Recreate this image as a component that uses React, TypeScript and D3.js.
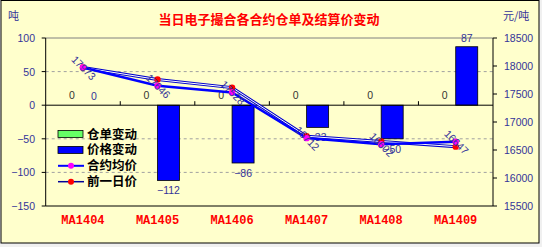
import React from 'react';
import * as d3 from 'd3';

const categories = ['MA1404', 'MA1405', 'MA1406', 'MA1407', 'MA1408', 'MA1409'];
const warehouseChange = [0, 0, 0, 0, 0, 0];
const priceChange = [0, -112, -86, -33, -50, 87];
const avgPrice = [17973, 17646, 17528, 16712, 16602, 16647];
const prevPrice = [17973, 17758, 17614, 16745, 16652, 16560];
const leftTicks = [100, 50, 0, -50, -100, -150];
const rightTicks = [18500, 18000, 17500, 17000, 16500, 16000, 15500];
const legendItems = ['仓单变动', '价格变动', '合约均价', '前一日价'];
const title = '当日电子撮合各合约仓单及结算价变动';

const W = 542, H = 247;
const PL = 45.7, PR = 493, PT = 38, PB = 206;
const navy = '#333399';
const cjk = '"Noto Sans CJK SC", sans-serif';

export default function App() {
  const yL = d3.scaleLinear().domain([-150, 100]).range([PB, PT]);
  const yR = d3.scaleLinear().domain([15500, 18500]).range([PB, PT]);
  const x0 = d3.scaleBand<string>().domain(categories).range([PL, PR]);
  const x1 = d3.scaleBand<string>().domain(['wh', 'price']).range([0, 44]);
  const cx = (c: string) => (x0(c) as number) + x0.bandwidth() / 2;
  const barX = (c: string, k: string) => cx(c) - 22 + (x1(k) as number);
  const line = d3.line<number>().x((_, i) => cx(categories[i])).y((d) => yR(d));
  const zero = yL(0);

  return (
    <svg width={W} height={H} style={{ position: 'absolute', left: 0, top: 0 }}>
      <rect x={0} y={0} width={W} height={H} fill="#F0F0F0" />
      <rect x={1} y={0.5} width={538} height={242.5} fill="#FFFFCC" stroke="#000" strokeWidth={1} />
      <text x={269} y={24} textAnchor="middle" fill="#FF0000" fontSize={13} fontWeight="bold" fontFamily={cjk}>{title}</text>
      <text x={8} y={20} fill={navy} fontSize={11} fontFamily={cjk}>吨</text>
      <text x={503} y={20} fill={navy} fontSize={11} fontFamily={cjk}>元/吨</text>

      {/* plot border top */}
      <line x1={PL} x2={PR} y1={PT} y2={PT} stroke="#808080" />
      {/* gridlines */}
      {leftTicks.filter((t) => t !== 100 && t !== 0 && t !== -150).map((t) => (
        <line key={t} x1={PL} x2={PR} y1={yL(t)} y2={yL(t)} stroke="#A0A0A0" strokeDasharray="3,3" />
      ))}
      <line x1={PL} x2={PR} y1={PB} y2={PB} stroke="#000" />

      {/* bars */}
      {categories.map((c, i) => (
        <g key={c}>
          <rect x={barX(c, 'wh')} width={x1.bandwidth()} y={Math.min(yL(warehouseChange[i]), zero)} height={Math.abs(yL(warehouseChange[i]) - zero)} fill="#66FF66" stroke="#000" strokeWidth={0.8} />
          <rect x={barX(c, 'price')} width={x1.bandwidth()} y={Math.min(yL(priceChange[i]), zero)} height={Math.abs(yL(priceChange[i]) - zero)} fill="#0000FF" stroke="#000" strokeWidth={0.8} />
        </g>
      ))}

      {/* axes */}
      <line x1={PL} x2={PL} y1={PT} y2={PB} stroke="#000" />
      <line x1={PR} x2={PR} y1={PT} y2={PB} stroke="#000" />
      <line x1={PL} x2={PR} y1={zero} y2={zero} stroke="#000" />
      {categories.map((c, i) => i > 0 ? (
        <line key={c} x1={x0(c) as number} x2={x0(c) as number} y1={zero - 4} y2={zero} stroke="#000" />
      ) : null)}
      {leftTicks.map((t) => (
        <g key={t}>
          <line x1={PL - 4} x2={PL} y1={yL(t)} y2={yL(t)} stroke="#000" />
          <text x={35} y={yL(t) + 4} textAnchor="end" fill={navy} fontSize={10.5} fontFamily="Liberation Sans, sans-serif">{t < 0 ? '\u2212' + Math.abs(t) : t}</text>
        </g>
      ))}
      {rightTicks.map((t) => (
        <g key={t}>
          <line x1={PR} x2={PR + 4} y1={yR(t)} y2={yR(t)} stroke="#000" />
          <text x={504} y={yR(t) + 4} fill={navy} fontSize={10.5} fontFamily="Liberation Sans, sans-serif">{t}</text>
        </g>
      ))}
      {categories.map((c) => (
        <text key={c} x={cx(c)} y={224} textAnchor="middle" fill="#FF0000" fontSize={12} fontWeight="bold" fontFamily="Liberation Mono, monospace">{c}</text>
      ))}

      {/* bar labels */}
      {categories.map((c, i) => {
        const wy = warehouseChange[i] >= 0 ? yL(warehouseChange[i]) - 6 : yL(warehouseChange[i]) + 13;
        const py = priceChange[i] >= 0 ? yL(priceChange[i]) - 5 : yL(priceChange[i]) + 14;
        const fmt = (v: number) => (v < 0 ? '\u2212' + Math.abs(v) : String(v));
        return (
          <g key={c} fontSize={10.5} fontFamily="Liberation Sans, sans-serif">
            <text x={barX(c, 'wh') + x1.bandwidth() / 2} y={wy} textAnchor="middle" fill="#333333">{fmt(warehouseChange[i])}</text>
            <text x={barX(c, 'price') + x1.bandwidth() / 2} y={py} textAnchor="middle" fill={navy}>{fmt(priceChange[i])}</text>
          </g>
        );
      })}

      {/* lines */}
      <path d={line(prevPrice) as string} fill="none" stroke="#0000CC" strokeWidth={3} />
      <path d={line(prevPrice) as string} fill="none" stroke="#FFFFFF" strokeWidth={1} />
      <path d={line(avgPrice) as string} fill="none" stroke="#0000FF" strokeWidth={2.5} />
      {categories.map((c, i) => (
        <g key={c}>
          <circle cx={cx(c)} cy={yR(prevPrice[i])} r={3.2} fill="#FF0000" />
          <circle cx={cx(c)} cy={yR(avgPrice[i])} r={3.2} fill="#FF00FF" />
          <text transform={`translate(${cx(c) - 2},${yR(avgPrice[i]) + 3}) rotate(45)`} textAnchor="middle" fill={navy} fontSize={10.5} fontFamily="Liberation Sans, sans-serif">{avgPrice[i]}</text>
        </g>
      ))}

      {/* legend */}
      {legendItems.map((name, i) => {
        const y = 134 + i * 15.9;
        return (
          <g key={name}>
            {i < 2 ? (
              <rect x={58} y={y - 3.5} width={25} height={7} fill={i === 0 ? '#66FF66' : '#0000FF'} stroke="#000" strokeWidth={0.8} />
            ) : (
              <g>
                <line x1={58} x2={84} y1={y} y2={y} stroke={i === 2 ? '#0000FF' : '#000099'} strokeWidth={i === 2 ? 2 : 1.5} />
                <circle cx={71} cy={y} r={3} fill={i === 2 ? '#FF00FF' : '#FF0000'} />
              </g>
            )}
            <text x={87} y={y + 4.5} fill="#000" fontSize={12.5} fontWeight="bold" fontFamily={cjk}>{name}</text>
          </g>
        );
      })}
    </svg>
  );
}
